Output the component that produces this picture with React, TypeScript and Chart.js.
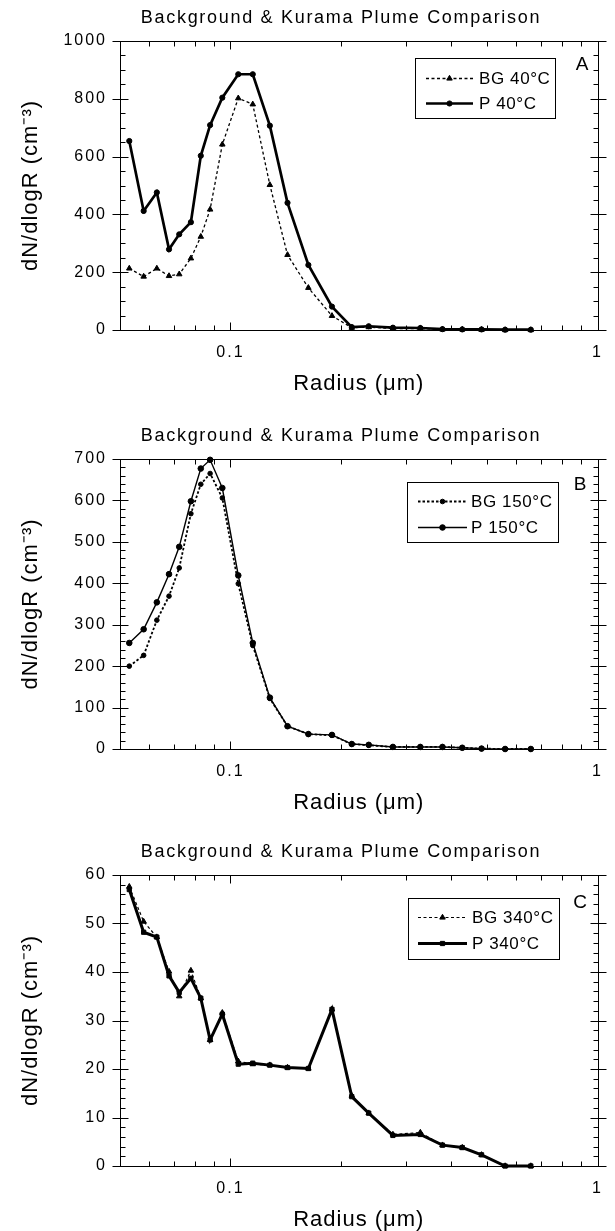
import React, { useEffect, useRef } from 'react';
import { Chart, registerables } from 'chart.js';

Chart.register(...registerables);
Chart.defaults.font.family = "'Liberation Sans', Arial, Helvetica, sans-serif";
Chart.defaults.color = '#000';

// ---- data ----
const RADIUS = [0.053, 0.058, 0.063, 0.068, 0.0725, 0.078, 0.083, 0.088, 0.095, 0.105, 0.115, 0.128, 0.143, 0.163, 0.189, 0.214, 0.238, 0.277, 0.329, 0.378, 0.428, 0.483, 0.56, 0.658];

const BG_40 = [213, 185, 213, 187, 193, 248, 323, 417, 642, 802, 781, 502, 260, 146, 49, 8, 10, 5, 5, 2, 2, 1, 0, 0];
const P_40 = [654, 412, 476, 279, 331, 373, 603, 709, 804, 885, 885, 707, 440, 225, 81, 10, 13, 8, 7, 3, 2, 2, 1, 1];

const BG_150 = [200, 226, 311, 369, 437, 568, 639, 665, 606, 399, 250, 122, 55, 36, 33, 12, 9, 5, 5, 5, 3, 1, 0, 0];
const P_150 = [256, 289, 354, 422, 488, 598, 677, 698, 630, 419, 256, 124, 55, 36, 34, 12, 10, 5, 5, 5, 3, 1, 0, 0];

const BG_340 = [57.6, 50.4, 47.2, 40.1, 35.0, 40.3, 34.6, 26.0, 31.6, 21.6, 21.0, 20.8, 20.3, 20.1, 32.3, 14.5, 10.9, 6.5, 6.9, 4.3, 3.8, 2.3, 0, 0];
const P_340 = [57.0, 48.2, 47.2, 39.2, 35.8, 38.7, 34.6, 26.0, 31.3, 21.0, 21.2, 20.8, 20.3, 20.1, 32.3, 14.3, 10.9, 6.3, 6.5, 4.3, 3.8, 2.3, 0, 0];

const X_LABEL_VALUES = [0.1, 1];
const X_TICK_LABELS = ['0.1', '1'];
const X_MINOR_TICKS = [0.06, 0.07, 0.08, 0.09, 0.2, 0.3, 0.4, 0.5, 0.6, 0.7, 0.8, 0.9];

const TITLE = 'Background & Kurama Plume Comparison';
const X_TITLE = 'Radius (\u03BCm)';
const Y_TITLE = 'dN/dlogR (cm\u207B\u00B3)';

// ---- panel layout ----
const PANELS = [
  {
    key: 'A', top: 0, padBottom: 13, yMax: 1000, yMajor: 200, yMinor: 50,
    letter: { x: 582, y: 65 },
    legend: { x: 415, y: 58, w: 140, h: 60, rows: [78, 103], l1: 426, l2: 473, tx: 479 },
    series: [
      { label: 'BG 40\u00B0C', data: BG_40, width: 1.3, dash: [3, 2.5], style: 'triangle', r: 3.2 },
      { label: 'P 40\u00B0C', data: P_40, width: 2.7, dash: [], style: 'circle', r: 2.6 },
    ],
  },
  {
    key: 'B', top: 418, padBottom: 12, yMax: 700, yMajor: 100, yMinor: 20,
    letter: { x: 580, y: 67 },
    legend: { x: 407, y: 64, w: 151, h: 60, rows: [83, 109], l1: 418, l2: 467, tx: 471 },
    series: [
      { label: 'BG 150\u00B0C', data: BG_150, width: 1.8, dash: [2.5, 2], style: 'circle', r: 2.3 },
      { label: 'P 150\u00B0C', data: P_150, width: 1.4, dash: [], style: 'circle', r: 2.8 },
    ],
  },
  {
    key: 'C', top: 834, padBottom: 11, yMax: 60, yMajor: 10, yMinor: 2,
    letter: { x: 580, y: 69 },
    legend: { x: 408, y: 64, w: 151, h: 61, rows: [83, 109], l1: 418, l2: 467, tx: 472 },
    series: [
      { label: 'BG 340\u00B0C', data: BG_340, width: 1.2, dash: [3, 2.5], style: 'triangle', r: 3.2 },
      { label: 'P 340\u00B0C', data: P_340, width: 3, dash: [], style: 'rect', r: 3 },
    ],
  },
];

function drawMarker(ctx: CanvasRenderingContext2D, style: string, x: number, y: number, r: number) {
  ctx.beginPath();
  if (style === 'triangle') {
    let rad = 0;
    ctx.moveTo(x + Math.sin(rad) * r, y - Math.cos(rad) * r);
    rad += (2 * Math.PI) / 3;
    ctx.lineTo(x + Math.sin(rad) * r, y - Math.cos(rad) * r);
    rad += (2 * Math.PI) / 3;
    ctx.lineTo(x + Math.sin(rad) * r, y - Math.cos(rad) * r);
    ctx.closePath();
  } else if (style === 'rect') {
    const s = r * Math.SQRT1_2;
    ctx.rect(x - s, y - s, 2 * s, 2 * s);
  } else {
    ctx.arc(x, y, r, 0, Math.PI * 2);
  }
  ctx.fill();
  ctx.stroke();
}

const decorPlugin = {
  id: 'decor',
  beforeDraw(chart: any) {
    chart.ctx.letterSpacing = '1px';
  },
  afterDatasetsDraw(chart: any) {
    chart.ctx.letterSpacing = '2px';
  },
  afterDraw(chart: any, _args: any, opts: any) {
    const ctx: CanvasRenderingContext2D = chart.ctx;
    const { left, right, top, bottom } = chart.chartArea;
    const xs = chart.scales.x;
    const ys = chart.scales.y;
    ctx.save();
    (ctx as any).letterSpacing = '0px';
    ctx.strokeStyle = '#000';
    ctx.fillStyle = '#000';
    ctx.lineWidth = 1;
    const L = Math.round(left) + 0.5;
    const R = Math.round(right) + 0.5;
    const T = Math.round(top) + 0.5;
    const B = Math.round(bottom) + 0.5;
    ctx.beginPath();
    ctx.rect(L, T, R - L, B - T);
    const n = Math.round(opts.yMax / opts.yMinor);
    const ratio = Math.round(opts.yMajor / opts.yMinor);
    for (let k = 0; k <= n; k++) {
      const py = Math.round(ys.getPixelForValue(k * opts.yMinor)) + 0.5;
      if (k % ratio === 0) {
        ctx.moveTo(L - 8, py); ctx.lineTo(L + 8, py);
        ctx.moveTo(R - 8, py); ctx.lineTo(R + 8, py);
      } else {
        ctx.moveTo(L, py); ctx.lineTo(L + 5, py);
        ctx.moveTo(R - 5, py); ctx.lineTo(R, py);
      }
    }
    for (const v of X_MINOR_TICKS) {
      const px = Math.round(xs.getPixelForValue(v)) + 0.5;
      ctx.moveTo(px, B); ctx.lineTo(px, B - 5);
      ctx.moveTo(px, T); ctx.lineTo(px, T + 5);
    }
    for (const v of X_LABEL_VALUES) {
      const px = Math.round(xs.getPixelForValue(v)) + 0.5;
      ctx.moveTo(px, B); ctx.lineTo(px, B - 8);
      ctx.moveTo(px, T); ctx.lineTo(px, T + 8);
    }
    ctx.stroke();

    // chart title
    (ctx as any).letterSpacing = '1.7px';
    ctx.font = "18px 'Liberation Sans', Arial, sans-serif";
    ctx.textAlign = 'center';
    ctx.textBaseline = 'middle';
    ctx.fillText(TITLE, 341, 18);

    // panel letter
    (ctx as any).letterSpacing = '0px';
    ctx.font = "19px 'Liberation Sans', Arial, sans-serif";
    ctx.fillText(opts.letter.text, opts.letter.x, opts.letter.y);

    // legend
    const lg = opts.legend;
    ctx.lineWidth = 1;
    ctx.strokeRect(lg.x + 0.5, lg.y + 0.5, lg.w, lg.h);
    ctx.font = "17px 'Liberation Sans', Arial, sans-serif";
    ctx.textAlign = 'left';
    (ctx as any).letterSpacing = '0.6px';
    chart.data.datasets.forEach((ds: any, i: number) => {
      const ry = lg.rows[i] + 0.5;
      ctx.save();
      ctx.lineWidth = ds.borderWidth;
      ctx.setLineDash(ds.borderDash || []);
      ctx.beginPath();
      ctx.moveTo(lg.l1, ry);
      ctx.lineTo(lg.l2, ry);
      ctx.stroke();
      ctx.restore();
      ctx.save();
      ctx.lineWidth = 1;
      drawMarker(ctx, ds.pointStyle, (lg.l1 + lg.l2) / 2, ry, ds.pointRadius);
      ctx.restore();
      ctx.fillText(ds.label, lg.tx, lg.rows[i] + 1);
    });
    ctx.restore();
    (ctx as any).letterSpacing = '0px';
  },
};

function Panel({ cfg }: { cfg: any }) {
  const ref = useRef<HTMLCanvasElement>(null);
  useEffect(() => {
    const chart = new Chart(ref.current as HTMLCanvasElement, {
      type: 'line',
      data: {
        datasets: cfg.series.map((s: any) => ({
          label: s.label,
          data: RADIUS.map((r, i) => ({ x: r, y: s.data[i] })),
          borderColor: '#000',
          backgroundColor: '#000',
          borderWidth: s.width,
          borderDash: s.dash,
          pointStyle: s.style,
          pointRadius: s.r,
          pointBackgroundColor: '#000',
          pointBorderColor: '#000',
          pointBorderWidth: 1,
          tension: 0,
          fill: false,
          clip: false,
        })),
      },
      options: {
        animation: false,
        responsive: false,
        events: [],
        layout: { padding: { top: 41, left: 0, right: 10, bottom: cfg.padBottom } },
        plugins: {
          legend: { display: false },
          title: { display: false },
          tooltip: { enabled: false },
          decor: {
            yMax: cfg.yMax,
            yMajor: cfg.yMajor,
            yMinor: cfg.yMinor,
            letter: { text: cfg.key, x: cfg.letter.x, y: cfg.letter.y },
            legend: cfg.legend,
          },
        } as any,
        scales: {
          x: {
            type: 'logarithmic',
            min: 0.05,
            max: 1,
            position: 'bottom',
            grid: { display: false, drawTicks: false },
            border: { display: false },
            afterBuildTicks: (s: any) => {
              s.ticks = X_LABEL_VALUES.map((v) => ({ value: v }));
            },
            afterFit: (s: any) => {
              s.height = 67;
            },
            ticks: {
              padding: 13,
              autoSkip: false,
              maxRotation: 0,
              color: '#000',
              font: { size: 16 },
              z: 1,
              callback: (_v: any, i: number) => X_TICK_LABELS[i],
            },
            title: { display: true, text: X_TITLE, font: { size: 22 }, padding: 0, color: '#000' },
          },
          y: {
            type: 'linear',
            min: 0,
            max: cfg.yMax,
            position: 'left',
            grid: { display: false, drawTicks: false },
            border: { display: false },
            afterFit: (s: any) => {
              s.width = 120;
            },
            ticks: {
              stepSize: cfg.yMajor,
              padding: 13,
              color: '#000',
              font: { size: 16 },
              z: 1,
              callback: (v: any) => String(v),
            },
            title: { display: true, text: Y_TITLE, font: { size: 22 }, padding: { top: 18, bottom: 0 }, color: '#000' },
          },
        } as any,
      },
      plugins: [decorPlugin as any],
    });
    return () => chart.destroy();
  }, [cfg]);
  return (
    <div style={{ position: 'absolute', left: 0, top: cfg.top, width: 615, height: 410 }}>
      <canvas ref={ref} width={615} height={410} />
    </div>
  );
}

export default function App() {
  return (
    <div style={{ position: 'absolute', left: 0, top: 0, width: 615, height: 1231, overflow: 'hidden', background: '#fff' }}>
      {PANELS.map((p) => (
        <Panel key={p.key} cfg={p} />
      ))}
    </div>
  );
}
